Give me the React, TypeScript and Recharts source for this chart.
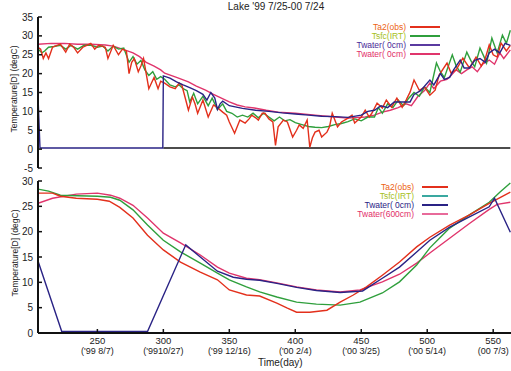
import React from "react";
import { LineChart, Line, XAxis, YAxis } from "recharts";

const DOMAIN: [number, number] = [205, 563.5];
const dayTicks = [250, 300, 350, 400, 450, 500, 550];
const dateLabels = ["('99 8/7)", "('9910/27)", "('99 12/16)", "('00 2/4)", "('00 3/25)", "('00 5/14)", "(00 7/3)"];
const topTempTicks = [-5, 0, 5, 10, 15, 20, 25, 30, 35];
const bottomTempTicks = [0, 5, 10, 15, 20, 25, 30];

// top panel: daily values [day, degC]
const ta2Daily = [
  [205, 27], [207, 26.5], [209, 24], [211, 25.5], [213, 24], [216, 27], [218, 27.3], [222, 27.8], [226, 25.7],
  [229, 27.8], [232, 27], [235, 25.5], [239, 27], [242, 27.5], [245, 28], [248, 26.5], [251, 27.5], [254, 27.2],
  [256, 27], [258, 24], [262, 27.5], [266, 25], [269, 26.5], [272, 26], [274, 20], [276, 23], [278, 24],
  [281, 20.5], [283, 22], [285, 24], [289, 16], [291, 17.5], [293, 19], [296, 16], [298, 18], [301, 17.5],
  [305, 16.5], [309, 16], [312, 17.5], [314, 17], [317, 13], [319, 10.3], [322, 13.8], [324, 12], [326, 9.5],
  [330, 13], [334, 8.5], [338, 11.7], [341, 11], [345, 9.8], [348, 9], [350, 7.2], [354, 4.2], [358, 7.7],
  [362, 6.9], [365, 8], [367, 9], [370, 8.3], [372, 7.7], [375, 9.5], [377, 9.5], [380, 8], [383, 7.2],
  [385, 1], [387, 5.9], [391, 7.7], [394, 7.2], [398, 3.2], [401, 5], [403, 6.4], [406, 5.5], [409, 7.7],
  [411, 0.5], [413, 3], [415, 4.5], [418, 5], [420, 3.2], [424, 4.5], [426, 6], [428, 9.5], [432, 5.9],
  [435, 7.2], [440, 8.2], [443, 9], [445, 6.9], [450, 8.5], [453, 10.3], [456, 8.5], [458, 9.5], [462, 12.2],
  [466, 10.9], [469, 13], [473, 11.1], [477, 13.5], [481, 11.1], [484, 13], [487, 15.1], [490, 18.3],
  [494, 15.6], [498, 16.4], [502, 14.3], [506, 15.6], [509, 19.6], [515, 22.8], [518, 20.2], [522, 21],
  [527, 24.1], [532, 21.5], [537, 24.4], [541, 22], [544, 24], [547, 27.6], [550, 25], [553, 24.4],
  [556, 28.1], [560, 26], [563, 27.5],
];
const tsfcDaily = [
  [205, 26.5], [208, 25.5], [210, 26], [213, 27], [217, 27.2], [222, 27.5], [226, 26.5], [230, 27.5],
  [235, 26.5], [240, 27.5], [245, 27.5], [250, 27], [254, 27.3], [258, 26], [262, 27.3], [266, 26.5],
  [270, 26.8], [274, 23], [277, 24.5], [280, 22.5], [283, 23.5], [286, 21], [289, 19.5], [292, 20.5],
  [295, 18.5], [298, 19.2], [301, 18.5], [305, 17], [309, 16.5], [312, 17], [315, 16], [318, 15.5],
  [320, 12.5], [323, 14.8], [326, 12], [330, 14], [334, 11.5], [337, 13.5], [341, 10.5], [345, 12],
  [348, 10], [352, 9.5], [356, 8.5], [360, 9], [364, 8.5], [368, 9.5], [372, 8.3], [376, 9.5], [380, 8.5],
  [384, 7.5], [388, 8.5], [392, 7.5], [396, 7.8], [400, 7], [405, 6.5], [410, 6], [415, 5.8], [420, 5.7],
  [425, 6], [430, 6.5], [435, 6.8], [440, 7.3], [445, 8], [450, 7.5], [455, 8.5], [460, 8.5], [463, 11],
  [466, 9.5], [470, 12], [474, 11], [478, 13], [482, 11.5], [486, 13.5], [490, 15], [494, 14], [498, 16.5],
  [502, 15], [507, 22.8], [510, 20.5], [513, 19], [519, 25], [522, 22], [525, 20.4], [530, 25.7],
  [533, 23.5], [536, 21.8], [540, 26.8], [543, 24.5], [545, 22.8], [549, 29.4], [553, 25.5], [557, 30.2],
  [560, 28], [563, 31.5],
];
const twater0Daily = [
  [205, 14], [206.5, 0.3], [299.6, 0.3], [300, 19.4], [305, 18.8], [310, 17.8], [315, 17], [320, 16.3],
  [325, 15.5], [330, 14.5], [333, 13], [336, 15], [339, 13.5], [341, 10.5], [343, 12], [345, 12.7],
  [350, 11.5], [360, 10.8], [370, 10.3], [380, 10], [390, 9.6], [400, 9.3], [410, 9], [420, 8.7],
  [430, 8.6], [440, 8.4], [450, 9], [455, 10], [460, 10.3], [465, 11.5], [470, 11], [475, 12.5],
  [480, 12.5], [487, 12.5], [490, 14.5], [495, 15.5], [502, 18.3], [505, 17], [510, 20], [513, 18.5],
  [517, 19], [520, 21], [525, 23.6], [528, 21.5], [532, 21.5], [536, 23.5], [540, 24], [544, 23],
  [547, 25.5], [551, 26.5], [555, 25.5], [559, 28], [563, 27.5],
];
const twaterDeepDaily = [
  [205, 27.8], [215, 28], [225, 28], [235, 27.8], [245, 27.8], [256, 27.6], [262, 27.3], [269, 26.5],
  [277, 25.5], [282, 24.5], [287, 23], [293, 22], [298, 21], [301, 20.1], [310, 19], [319, 17.8],
  [325, 16.7], [332, 15.6], [338, 14.5], [344, 13.5], [350, 12.5], [356, 11.7], [362, 11.2], [369, 10.9],
  [378, 10.3], [387, 9.8], [400, 9.5], [415, 9], [430, 8.5], [440, 8.2], [453, 8.5], [460, 9], [466, 9.8],
  [472, 10.3], [478, 11], [484, 12], [488, 11.5], [493, 14], [498, 15.5], [502, 17.5], [505, 16],
  [510, 18], [515, 18.5], [518, 19.5], [522, 21], [526, 20], [530, 21], [534, 21.8], [538, 20.5],
  [542, 22.5], [547, 23.6], [551, 22.5], [555, 25.5], [558, 24], [563, 26.3],
];
const zeroLine = [[300, 0.3], [563, 0.3]];

// bottom panel: smoothed values [day, degC]
const ta2Smooth = [
  [205, 27.6], [216, 27.6], [222, 27], [234, 26.6], [250, 26.4], [259, 26], [267, 24.8], [277, 22.7],
  [288, 19.3], [300, 16.4], [313, 14], [328, 12], [341, 10.5], [350, 8.5], [363, 7.5], [373, 7.3],
  [386, 5.9], [394, 4.9], [401, 4.1], [411, 4.1], [424, 4.5], [434, 6.1], [444, 7.5], [454, 9.1],
  [466, 11.4], [479, 14], [492, 17], [502, 18.9], [517, 21.3], [532, 23.3], [547, 25.6], [563, 27.8],
];
const tsfcSmooth = [
  [205, 28.4], [213, 28], [222, 27.2], [235, 27.1], [250, 27], [260, 26.8], [267, 26.2], [277, 24.3],
  [288, 21.3], [300, 18.3], [313, 16], [328, 13.8], [341, 11.8], [350, 10.5], [363, 9.1], [373, 8.1],
  [386, 7.1], [401, 6.1], [416, 5.7], [434, 5.5], [449, 6.1], [466, 7.9], [479, 10.1], [492, 13.4],
  [502, 16.8], [510, 18.9], [517, 20.7], [532, 23.3], [547, 25.8], [555, 27.8], [563, 29.6],
];
const twater0Smooth = [
  [205, 14.2], [223, 0.3], [288, 0.3], [317, 17.4], [328, 15], [341, 12.2], [353, 11], [363, 10.6],
  [373, 10.4], [386, 9.8], [401, 9], [416, 8.4], [434, 8], [451, 8.3], [466, 10.8], [479, 13], [492, 16],
  [502, 18.3], [517, 20.9], [532, 22.9], [547, 24.9], [551, 26.6], [563, 19.9],
];
const twater600Smooth = [
  [205, 25.6], [216, 26.6], [234, 27.4], [250, 27.6], [260, 27.2], [267, 26.6], [277, 25.2], [288, 22.7],
  [300, 19.7], [313, 17.8], [328, 15.4], [341, 13], [350, 11.8], [363, 10.8], [373, 10.5], [386, 9.9],
  [401, 9.1], [416, 8.5], [434, 8.1], [449, 8.5], [466, 10.1], [479, 11.6], [492, 13.8], [502, 15.8],
  [517, 18.7], [532, 21.6], [547, 24.4], [553, 25.4], [563, 25.8],
];

const RED = "#e3301c";
const GREEN = "#2f9f3c";
const NAVY = "#2a2385";
const PINK = "#e0356c";
const FONT = '"Liberation Sans", Arial, sans-serif';
const AXIS = { stroke: "#111", strokeWidth: 2 };

const rows = (pts: number[][]) => pts.map(([d, t]) => ({ d, t }));

const XTick = (p: any) => {
  const { x, y, payload, dir, labels } = p;
  const i = dayTicks.indexOf(payload.value);
  return (
    <g>
      <line x1={x} x2={x} y1={y} y2={y + dir * 4} stroke="#111" strokeWidth={1.5} />
      {labels && (
        <>
          <text x={x} y={y + 10.5} textAnchor="middle" fontSize={9.5} fill="#222" fontFamily={FONT}>
            {payload.value}
          </text>
          <text x={x} y={y + 20.5} textAnchor="middle" fontSize={9} fill="#222" fontFamily={FONT}>
            {dateLabels[i]}
          </text>
        </>
      )}
    </g>
  );
};

const YTick = (p: any) => {
  const { x, y, payload } = p;
  return (
    <g>
      <line x1={x} x2={x + 4} y1={y} y2={y} stroke="#111" strokeWidth={1.5} />
      <text x={x - 5} y={y + 3.5} textAnchor="end" fontSize={10} fill="#222" fontFamily={FONT}>
        {payload.value}
      </text>
    </g>
  );
};

type Item = { label: string; text: string; line: string };
const topLegend: Item[] = [
  { label: "Ta2(obs)", text: "#ec6212", line: RED },
  { label: "Tsfc(IRT)", text: "#a6bf1c", line: GREEN },
  { label: "Twater( 0cm)", text: "#4a2a98", line: "#5a3aa0" },
  { label: "Twater( 0cm)", text: "#e2306a", line: PINK },
];
const bottomLegend: Item[] = [
  { label: "Ta2(obs)", text: "#ec6212", line: RED },
  { label: "Tsfc(IRT)", text: "#a6bf1c", line: "#3aa8a0" },
  { label: "Twater( 0cm)", text: "#2a2385", line: NAVY },
  { label: "Twater(600cm)", text: "#e2306a", line: "#e86a9a" },
];

function LegendBox({ items, right, x1, x2, top, gap }: { items: Item[]; right: number; x1: number; x2: number; top: number; gap: number }) {
  return (
    <>
      {items.map((it, i) => {
        const y = top + i * gap;
        return (
          <React.Fragment key={i}>
            <div
              style={{
                position: "absolute", left: right - 80, width: 80, top: y - 4.5, height: 9, lineHeight: "9px",
                textAlign: "right", fontSize: 8.5, color: it.text, whiteSpace: "pre",
              }}
            >
              {it.label}
            </div>
            <div style={{ position: "absolute", left: x1, width: x2 - x1, top: y - 1, height: 2, background: it.line }} />
          </React.Fragment>
        );
      })}
    </>
  );
}

function RotLabel({ x, y, text }: { x: number; y: number; text: string }) {
  return (
    <div style={{ position: "absolute", left: x, top: y, width: 0, height: 0 }}>
      <div
        style={{
          position: "absolute", left: 0, top: 0, whiteSpace: "nowrap", fontSize: 8.5, color: "#222",
          transform: "translate(-50%, -50%) rotate(-90deg)",
        }}
      >
        {text}
      </div>
    </div>
  );
}

function axes(yTicks: number[], yDomain: [number, number], bottomLabels: boolean, xHeight: number) {
  return [
    <XAxis key="xb" dataKey="d" type="number" domain={DOMAIN} allowDataOverflow ticks={dayTicks}
      height={xHeight} tickSize={0} tickMargin={0} tickLine={false} axisLine={AXIS}
      tick={(p: any) => <XTick {...p} dir={-1} labels={bottomLabels} />} />,
    <XAxis key="xt" xAxisId="t" orientation="top" dataKey="d" type="number" domain={DOMAIN} allowDataOverflow
      ticks={dayTicks} height={0} tickSize={0} tickMargin={0} tickLine={false} axisLine={AXIS}
      tick={(p: any) => <XTick {...p} dir={1} labels={false} />} />,
    <YAxis key="y" type="number" domain={yDomain} ticks={yTicks} width={38} tickSize={0} tickMargin={0}
      tickLine={false} axisLine={AXIS} tick={(p: any) => <YTick {...p} />} interval={0} />,
  ];
}

export default function App() {
  return (
    <div style={{ position: "absolute", left: 0, top: 0, width: 511, height: 371, overflow: "hidden", background: "#fff", fontFamily: FONT }}>
      <div style={{ position: "absolute", left: 0, top: 1, width: 552, textAlign: "center", fontSize: 10, color: "#222" }}>
        Lake '99 7/25-00 7/24
      </div>

      <div style={{ position: "absolute", left: 0, top: 0 }}>
        <LineChart width={511} height={172} margin={{ top: 17, right: 0, bottom: 4, left: 0 }}>
          {axes(topTempTicks, [-5, 35], false, 0)}
          <Line data={rows(zeroLine)} dataKey="t" stroke="#111" strokeWidth={1.5} dot={false} isAnimationActive={false} />
          <Line xAxisId="t" data={rows(twaterDeepDaily)} dataKey="t" stroke={PINK} strokeWidth={1.4} dot={false} isAnimationActive={false} />
          <Line data={rows(tsfcDaily)} dataKey="t" stroke={GREEN} strokeWidth={1.4} dot={false} isAnimationActive={false} />
          <Line data={rows(ta2Daily)} dataKey="t" stroke={RED} strokeWidth={1.4} dot={false} isAnimationActive={false} />
          <Line data={rows(twater0Daily)} dataKey="t" stroke={NAVY} strokeWidth={1.4} dot={false} isAnimationActive={false} />
        </LineChart>
      </div>

      <div style={{ position: "absolute", left: 0, top: 175 }}>
        <LineChart width={511} height={196} margin={{ top: 6, right: 0, bottom: 0, left: 0 }}>
          {axes(bottomTempTicks, [0, 30], true, 38)}
          <Line xAxisId="t" data={rows(twater600Smooth)} dataKey="t" stroke={PINK} strokeWidth={1.4} dot={false} isAnimationActive={false} />
          <Line data={rows(tsfcSmooth)} dataKey="t" stroke={GREEN} strokeWidth={1.4} dot={false} isAnimationActive={false} />
          <Line data={rows(ta2Smooth)} dataKey="t" stroke={RED} strokeWidth={1.4} dot={false} isAnimationActive={false} />
          <Line data={rows(twater0Smooth)} dataKey="t" stroke={NAVY} strokeWidth={1.4} dot={false} isAnimationActive={false} />
        </LineChart>
      </div>

      <LegendBox items={topLegend} right={406} x1={410} x2={440} top={27} gap={9} />
      <LegendBox items={bottomLegend} right={414} x1={422} x2={448} top={187} gap={9} />

      <RotLabel x={14} y={89} text="Temperature[D] (degC)" />
      <RotLabel x={15} y={253} text="Temperature[D] (degC)" />
      <div style={{ position: "absolute", left: 258, top: 357, fontSize: 10, lineHeight: "11px", color: "#222" }}>Time(day)</div>
    </div>
  );
}
